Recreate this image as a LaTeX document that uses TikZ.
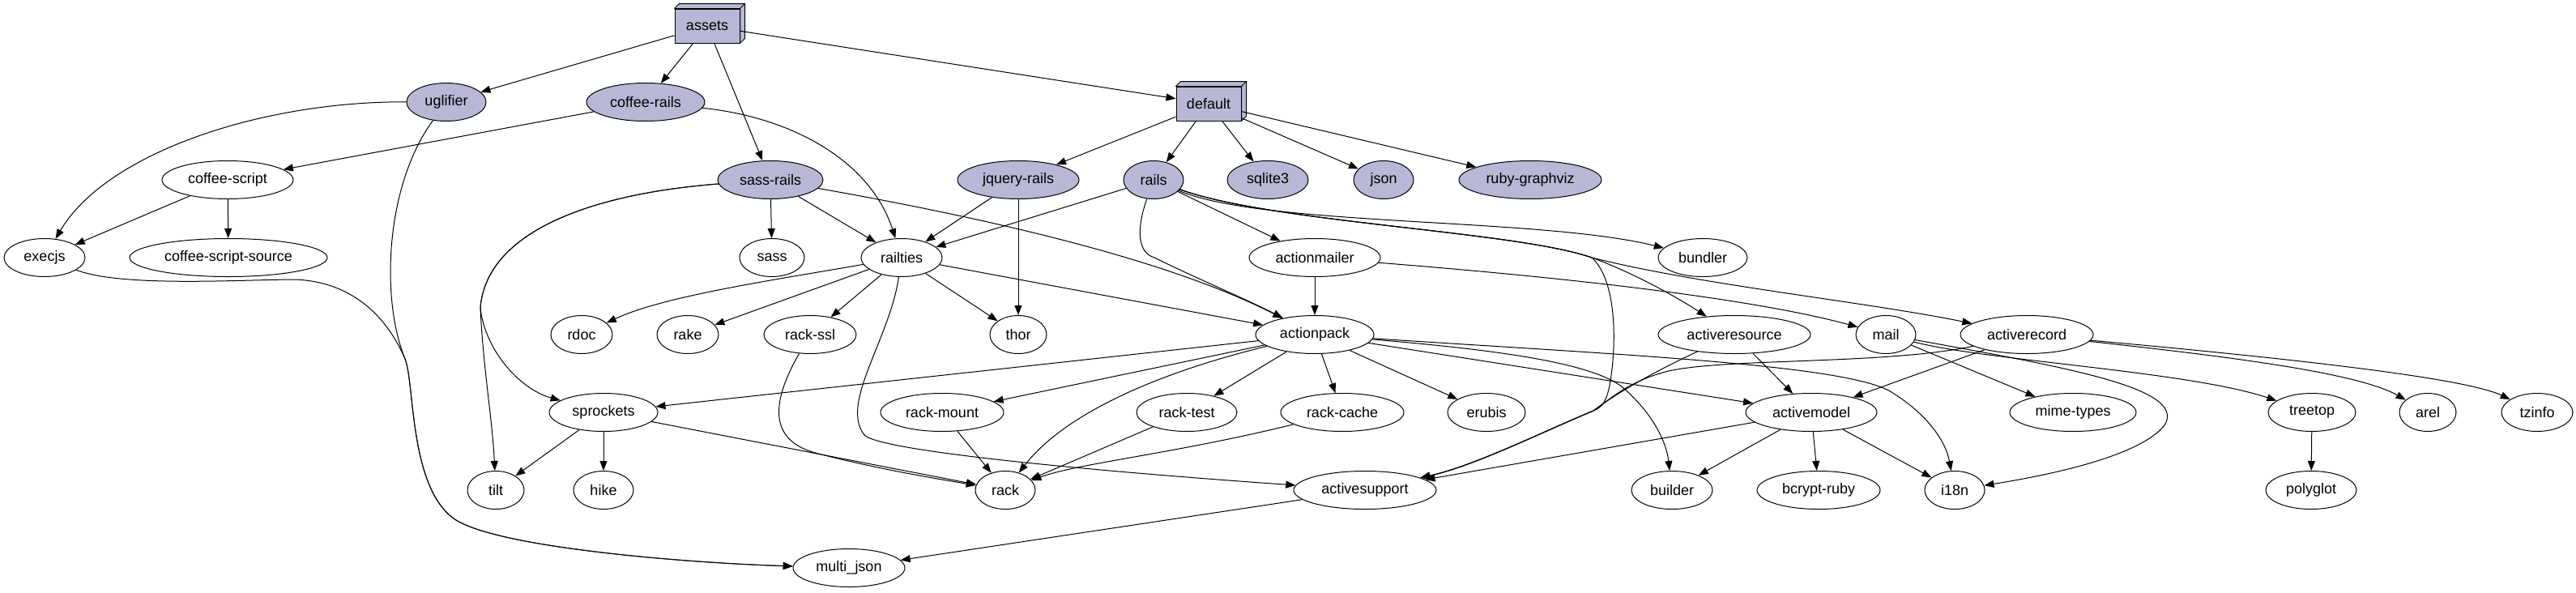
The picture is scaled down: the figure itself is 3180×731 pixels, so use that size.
\documentclass[tikz,border=0pt]{standalone}
\usepackage{fontspec}
\setmainfont{Liberation Sans}
\usetikzlibrary{arrows.meta,shapes.geometric}
\definecolor{lav}{RGB}{184,184,214}
\begin{document}
\begin{tikzpicture}[x=1pt,y=-1pt,
  every node/.style={font=\fontsize{18}{20}\selectfont},
  gem/.style={ellipse,draw,line width=1pt,inner sep=0pt,minimum height=47pt},
  maingem/.style={gem,fill=lav},
  grp/.style={rectangle,draw,fill=lav,line width=1pt,minimum width=80pt,minimum height=42pt,inner sep=0pt},
  dep/.style={line width=1pt,-{Triangle[length=12pt,width=9pt]}}]
\useasboundingbox (0,0) rectangle (3180,731);
\fill[white] (0,0) rectangle (3180,731);

% groups (box3d)
\node[grp] (assets) at (873,32) {assets};
\node[grp] (default) at (1492,128) {default};
\foreach \b in {assets,default}{
  \draw[fill=lav,line width=1pt,line join=round] (\b.north west) -- ++(6,-6) -- ([xshift=6pt,yshift=6pt]\b.north east) -- ([xshift=6pt,yshift=6pt]\b.south east) -- (\b.south east) -- (\b.north east) -- cycle;
  \draw[line width=1pt] (\b.north east) -- ++(6,-6);
}

% top level gems
\node[maingem,minimum width=98pt] (uglifier) at (551,126) {uglifier};
\node[maingem,minimum width=146pt] (coffeerails) at (797,126) {coffee-rails};
\node[maingem,minimum width=130pt] (sassrails) at (951,222) {sass-rails};
\node[maingem,minimum width=150pt] (jqueryrails) at (1257,222) {jquery-rails};
\node[maingem,minimum width=74pt] (rails) at (1424,222) {rails};
\node[maingem,minimum width=100pt] (sqlite) at (1565,222) {sqlite3};
\node[maingem,minimum width=74pt] (json) at (1708,222) {json};
\node[maingem,minimum width=176pt] (rubygraphviz) at (1889,222) {ruby-graphviz};

% dependencies
\node[gem,minimum width=162pt] (coffeescript) at (281,222) {coffee-script};
\node[gem,minimum width=100pt] (execjs) at (55,318) {execjs};
\node[gem,minimum width=244pt] (coffeescriptsource) at (282,318) {coffee-script-source};
\node[gem,minimum width=80pt] (sass) at (953,318) {sass};
\node[gem,minimum width=100pt] (railties) at (1113,318) {railties};
\node[gem,minimum width=162pt] (actionmailer) at (1623,318) {actionmailer};
\node[gem,minimum width=110pt] (bundler) at (2102,318) {bundler};
\node[gem,minimum width=76pt] (rdoc) at (718,413) {rdoc};
\node[gem,minimum width=76pt] (rake) at (849,413) {rake};
\node[gem,minimum width=114pt] (rackssl) at (1000,413) {rack-ssl};
\node[gem,minimum width=70pt] (thor) at (1257,413) {thor};
\node[gem,minimum width=146pt] (actionpack) at (1623,413) {actionpack};
\node[gem,minimum width=188pt] (activeresource) at (2141,413) {activeresource};
\node[gem,minimum width=74pt] (mail) at (2328,413) {mail};
\node[gem,minimum width=164pt] (activerecord) at (2502,413) {activerecord};
\node[gem,minimum width=134pt] (sprockets) at (745,509) {sprockets};
\node[gem,minimum width=152pt] (rackmount) at (1163,509) {rack-mount};
\node[gem,minimum width=124pt] (racktest) at (1465,509) {rack-test};
\node[gem,minimum width=152pt] (rackcache) at (1657,509) {rack-cache};
\node[gem,minimum width=96pt] (erubis) at (1835,509) {erubis};
\node[gem,minimum width=162pt] (activemodel) at (2236,509) {activemodel};
\node[gem,minimum width=156pt] (mimetypes) at (2559,509) {mime-types};
\node[gem,minimum width=108pt] (treetop) at (2854,509) {treetop};
\node[gem,minimum width=70pt] (arel) at (2997,509) {arel};
\node[gem,minimum width=88pt] (tzinfo) at (3132,509) {tzinfo};
\node[gem,minimum width=70pt] (tilt) at (612,605) {tilt};
\node[gem,minimum width=74pt] (hike) at (745,605) {hike};
\node[gem,minimum width=74pt] (rack) at (1241,605) {rack};
\node[gem,minimum width=176pt] (activesupport) at (1685,605) {activesupport};
\node[gem,minimum width=100pt] (builder) at (2064,605) {builder};
\node[gem,minimum width=152pt] (bcryptruby) at (2245,605) {bcrypt-ruby};
\node[gem,minimum width=74pt] (ieighteen) at (2413,605) {i18n};
\node[gem,minimum width=112pt] (polyglot) at (2853,605) {polyglot};
\node[gem,minimum width=138pt] (multijson) at (1048,701) {multi\_json};

% edges
\draw[dep] (assets) -- (uglifier);
\draw[dep] (assets) -- (coffeerails);
\draw[dep] (assets) -- (sassrails);
\draw[dep] (assets) -- (default);
\draw[dep] (default) -- (jqueryrails);
\draw[dep] (default) -- (rails);
\draw[dep] (default) -- (sqlite);
\draw[dep] (default) -- (json);
\draw[dep] (default) -- (rubygraphviz);

\draw[dep] (uglifier) .. controls (320,125) and (130,190) .. (execjs);
\draw[dep] (uglifier) .. controls (475,230) and (470,370) .. (500,443) .. controls (512,473) and (505,600) .. (560,640) .. controls (610,676) and (850,695) .. (multijson);
\draw[dep] (execjs) .. controls (150,355) and (300,345) .. (365,345) .. controls (430,348) and (475,385) .. (500,443) .. controls (512,473) and (505,600) .. (560,640) .. controls (610,676) and (850,695) .. (multijson);

\draw[dep] (coffeerails) -- (coffeescript);
\draw[dep] (coffeerails) .. controls (980,145) and (1075,200) .. (railties);
\draw[dep] (coffeescript) -- (execjs);
\draw[dep] (coffeescript) -- (coffeescriptsource);

\draw[dep] (sassrails) -- (sass);
\draw[dep] (sassrails) -- (railties);
\draw[dep] (sassrails) .. controls (1250,275) and (1450,325) .. (actionpack);
\draw[dep] (sassrails) .. controls (720,240) and (600,290) .. (593,380) .. controls (596,450) and (608,520) .. (tilt);
\draw[dep] (sassrails) .. controls (720,240) and (600,290) .. (593,380) .. controls (598,430) and (640,480) .. (sprockets);

\draw[dep] (jqueryrails) -- (railties);
\draw[dep] (jqueryrails) -- (thor);

\draw[dep] (rails) -- (railties);
\draw[dep] (rails) -- (actionmailer);
\draw[dep] (rails) .. controls (1402,285) and (1405,312) .. (1425,318) .. controls (1480,345) and (1540,370) .. (actionpack);
\draw[dep] (rails) .. controls (1560,280) and (1900,268) .. (bundler);
\draw[dep] (rails) .. controls (1570,275) and (1870,285) .. (1965,318) .. controls (2020,338) and (2075,370) .. (activeresource);
\draw[dep] (rails) .. controls (1570,275) and (1870,285) .. (1965,318) .. controls (1995,345) and (1996,420) .. (1988,470) .. controls (1984,495) and (1978,503) .. (1967,507) .. controls (1900,535) and (1820,575) .. (activesupport);
\draw[dep] (rails) .. controls (1570,275) and (1870,285) .. (1965,318) .. controls (2100,352) and (2300,372) .. (activerecord);

\draw[dep] (actionmailer) -- (actionpack);
\draw[dep] (actionmailer) .. controls (1900,340) and (2150,365) .. (mail);

\draw[dep] (railties) .. controls (960,345) and (820,365) .. (rdoc);
\draw[dep] (railties) -- (rake);
\draw[dep] (railties) -- (rackssl);
\draw[dep] (railties) -- (thor);
\draw[dep] (railties) -- (actionpack);
\draw[dep] (railties) .. controls (1098,420) and (1035,500) .. (1068,538) .. controls (1100,560) and (1400,585) .. (activesupport);

\draw[dep] (actionpack) -- (sprockets);
\draw[dep] (actionpack) -- (rackmount);
\draw[dep] (actionpack) .. controls (1430,460) and (1315,510) .. (rack);
\draw[dep] (actionpack) -- (racktest);
\draw[dep] (actionpack) -- (rackcache);
\draw[dep] (actionpack) -- (erubis);
\draw[dep] (actionpack) .. controls (1850,432) and (1965,448) .. (2003,478) .. controls (2040,510) and (2057,545) .. (builder);
\draw[dep] (actionpack) .. controls (2000,438) and (2280,450) .. (2335,484) .. controls (2380,512) and (2402,545) .. (ieighteen);
\draw[dep] (actionpack) -- (activemodel);

\draw[dep] (activeresource) -- (activemodel);
\draw[dep] (activeresource) .. controls (2050,455) and (2000,482) .. (1967,507) .. controls (1900,535) and (1820,575) .. (activesupport);

\draw[dep] (activerecord) .. controls (2330,450) and (2130,442) .. (2060,458) .. controls (2010,470) and (1985,495) .. (1967,507) .. controls (1900,535) and (1820,575) .. (activesupport);
\draw[dep] (activerecord) -- (activemodel);
\draw[dep] (activerecord) .. controls (2750,440) and (2910,460) .. (arel);
\draw[dep] (activerecord) .. controls (2800,440) and (3040,465) .. (tzinfo);

\draw[dep] (mail) -- (mimetypes);
\draw[dep] (mail) .. controls (2450,445) and (2700,458) .. (treetop);
\draw[dep] (mail) .. controls (2560,455) and (2700,480) .. (2672,525) .. controls (2640,565) and (2520,588) .. (ieighteen);

\draw[dep] (activemodel) -- (activesupport);
\draw[dep] (activemodel) -- (builder);
\draw[dep] (activemodel) -- (bcryptruby);
\draw[dep] (activemodel) -- (ieighteen);

\draw[dep] (treetop) -- (polyglot);

\draw[dep] (sprockets) -- (tilt);
\draw[dep] (sprockets) -- (hike);
\draw[dep] (sprockets) -- (rack);

\draw[dep] (rackssl) .. controls (950,500) and (950,545) .. (1010,560) .. controls (1080,578) and (1150,590) .. (rack);
\draw[dep] (rackmount) -- (rack);
\draw[dep] (racktest) -- (rack);
\draw[dep] (rackcache) .. controls (1450,560) and (1330,572) .. (rack);

\draw[dep] (activesupport) -- (multijson);
\end{tikzpicture}
\end{document}
